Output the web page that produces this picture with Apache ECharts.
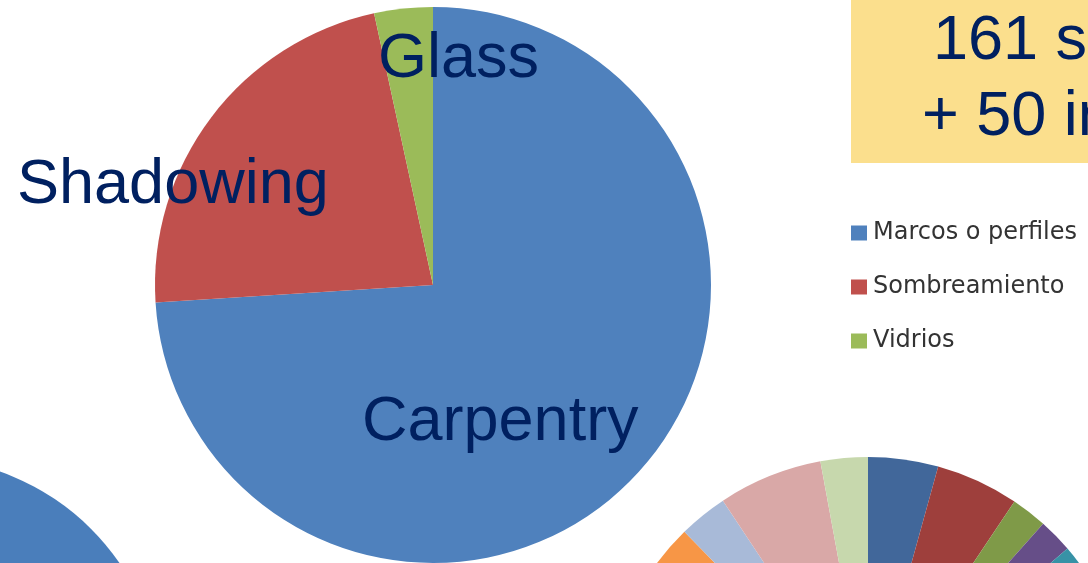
<!DOCTYPE html>
<html>
<head>
<meta charset="utf-8">
<script src="https://cdn.jsdelivr.net/npm/echarts@6/dist/echarts.min.js"></script>
<style>
html,body{margin:0;padding:0;background:#fff;}
#chart{width:1088px;height:563px;}
</style>
</head>
<body>
<div id="chart"></div>
<script>
// Main pie (Spanish category names shown in legend)
const mainCategories = ['Marcos o perfiles', 'Sombreamiento', 'Vidrios'];
const mainValues = [74.0, 22.6, 3.4];
const mainColors = ['#4F81BD', '#C0504D', '#9BBB59'];
// English overlay labels
const overlayLabels = ['Glass', 'Shadowing', 'Carpentry'];
// Yellow box text
const boxLines = ['161 s', '+ 50 in'];
// Partial pie at bottom right (clockwise from 12 o'clock)
const rightValues = [4.3, 5.1, 2.2, 2.1, 3.3, 5.6, 16.7, 9.7, 8.3, 6.9, 9.7, 13.8, 3.0, 6.4, 2.9];
const rightColors = ['#41679A', '#9E3F3C', '#7F9A48', '#664E88', '#3792A6', '#D67D33',
                     '#4F81BD', '#C0504D', '#9BBB59', '#8064A2', '#4BACC6', '#F79646',
                     '#A8BAD8', '#D9A8A7', '#C7D8AD'];
// Partial pie at bottom left
const leftValues = [100];
const leftColors = ['#4A7EBB'];

const chart = echarts.init(document.getElementById('chart'), null, {renderer: 'canvas'});
const labelFont = '"Liberation Sans", Arial, sans-serif';
const navy = '#002060';

chart.setOption({
  animation: false,
  backgroundColor: '#ffffff',
  legend: {
    orient: 'vertical',
    left: 846,
    top: 216,
    data: mainCategories,
    icon: 'rect',
    itemWidth: 16,
    itemHeight: 15,
    itemGap: 30,
    textStyle: {fontFamily: '"DejaVu Sans", sans-serif', fontSize: 24, color: '#333333', lineHeight: 24, padding: [0, 0, 0, 1]},
    selectedMode: false
  },
  graphic: [
    {type: 'rect', left: 851, top: 0, shape: {width: 237, height: 163}, style: {fill: '#FBDF8D'}, z: 1},
    {type: 'text', x: 933, y: 42, style: {text: boxLines[0], font: '63px ' + labelFont, fill: navy, verticalAlign: 'middle'}, z: 10},
    {type: 'text', x: 922, y: 118, style: {text: boxLines[1], font: '63px ' + labelFont, fill: navy, verticalAlign: 'middle'}, z: 10},
    {type: 'text', x: 378, y: 60, style: {text: overlayLabels[0], font: '63px ' + labelFont, fill: navy, verticalAlign: 'middle'}, z: 10},
    {type: 'text', x: 17, y: 186, style: {text: overlayLabels[1], font: '63px ' + labelFont, fill: navy, verticalAlign: 'middle'}, z: 10},
    {type: 'text', x: 362, y: 423, style: {text: overlayLabels[2], font: '63px ' + labelFont, fill: navy, verticalAlign: 'middle'}, z: 10}
  ],
  series: [
    {
      type: 'pie',
      name: 'main',
      center: [433, 285],
      radius: [0, 278],
      startAngle: 90,
      clockwise: true,
      label: {show: false},
      labelLine: {show: false},
      emphasis: {disabled: true},
      itemStyle: {borderWidth: 0},
      data: mainCategories.map((n, i) => ({name: n, value: mainValues[i], itemStyle: {color: mainColors[i]}}))
    },
    {
      type: 'pie',
      name: 'right',
      center: [868, 720],
      radius: [0, 263],
      startAngle: 90,
      clockwise: true,
      label: {show: false},
      labelLine: {show: false},
      emphasis: {disabled: true},
      itemStyle: {borderWidth: 0},
      data: rightValues.map((v, i) => ({name: 'r' + i, value: v, itemStyle: {color: rightColors[i]}}))
    },
    {
      type: 'pie',
      name: 'left',
      center: [-80, 700],
      radius: [0, 242],
      startAngle: 90,
      label: {show: false},
      labelLine: {show: false},
      emphasis: {disabled: true},
      itemStyle: {borderWidth: 0},
      data: leftValues.map((v, i) => ({name: 'l' + i, value: v, itemStyle: {color: leftColors[i]}}))
    }
  ]
});
</script>
</body>
</html>
